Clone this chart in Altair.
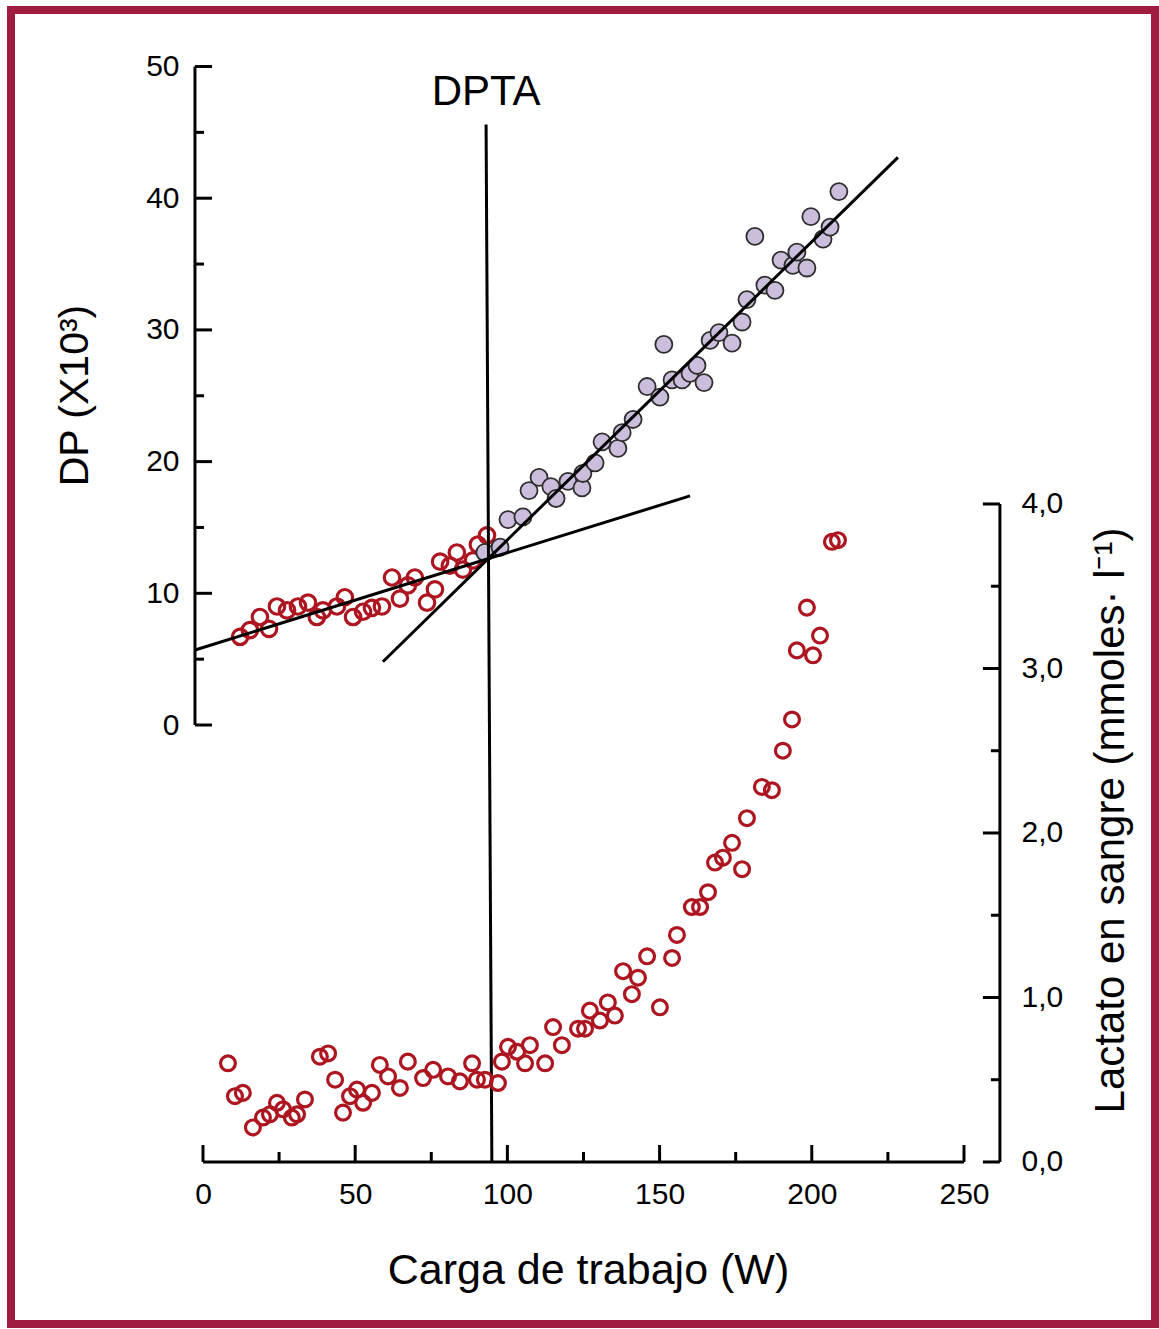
import altair as alt
import pandas as pd

FONT = "Liberation Sans"
RED = "#ad1620"
FRAME = "#a11d40"

# ---------------- data ----------------
# DP (x10^3) below the threshold: open red circles
dp_low_w = [12.2, 15.4, 18.7, 21.7, 24.3, 27.6, 31.2, 34.5, 37.4, 39.4,
            44.0, 46.6, 49.3, 52.6, 55.5, 58.8, 62.1, 64.7, 67.3, 69.6,
            73.6, 76.2, 77.9, 81.1, 83.4, 85.4, 88.7, 90.3, 93.3]
dp_low_v = [6.7, 7.2, 8.2, 7.3, 9.0, 8.7, 9.0, 9.3, 8.2, 8.7,
            9.0, 9.7, 8.2, 8.6, 8.9, 9.0, 11.2, 9.6, 10.6, 11.2,
            9.3, 10.3, 12.4, 12.1, 13.1, 11.8, 12.5, 13.7, 14.4]

# DP above the threshold: filled lavender circles
dp_high_w = [92.6, 97.6, 100.2, 105.1, 107.1, 110.4, 114.3, 116.0, 119.9, 124.5,
             124.8, 128.8, 131.1, 136.3, 137.7, 141.3, 145.9, 150.1, 151.4, 154.1,
             157.4, 160.0, 162.3, 164.6, 166.6, 169.5, 173.8, 177.1, 178.7, 181.3,
             184.6, 187.9, 189.9, 193.8, 195.1, 198.4, 199.7, 203.7, 206.0, 208.9]
dp_high_v = [13.1, 13.5, 15.6, 15.8, 17.8, 18.8, 18.1, 17.2, 18.5, 18.0,
             19.1, 19.9, 21.5, 21.0, 22.2, 23.2, 25.7, 24.9, 28.9, 26.2,
             26.2, 26.7, 27.3, 26.0, 29.2, 29.8, 29.0, 30.6, 32.3, 37.1,
             33.4, 33.0, 35.3, 34.9, 35.9, 34.7, 38.6, 36.9, 37.8, 40.5]

# Blood lactate (mmol/l)
lac_w = [8.2, 10.5, 13.1, 16.4, 19.7, 22.0, 24.3, 26.3, 29.2, 30.9,
         33.5, 38.4, 41.1, 43.4, 46.0, 48.3, 50.6, 52.6, 55.5, 58.1,
         60.8, 64.7, 67.3, 72.3, 75.6, 80.5, 84.4, 88.4, 90.0, 92.6,
         96.9, 98.2, 100.2, 103.2, 105.8, 107.4, 112.4, 115.0, 117.9, 123.2,
         125.5, 127.1, 130.4, 133.0, 135.3, 138.0, 140.9, 142.9, 145.9, 150.1,
         154.1, 155.7, 160.6, 163.3, 165.9, 168.2, 170.8, 173.8, 177.1, 178.7,
         183.6, 186.9, 190.5, 193.5, 195.1, 200.4, 202.7, 198.4, 206.6, 208.6]
lac_v = [0.60, 0.40, 0.42, 0.21, 0.27, 0.29, 0.36, 0.32, 0.27, 0.29,
         0.38, 0.64, 0.66, 0.50, 0.30, 0.40, 0.44, 0.36, 0.42, 0.59,
         0.52, 0.45, 0.61, 0.51, 0.56, 0.52, 0.49, 0.60, 0.50, 0.50,
         0.48, 0.61, 0.70, 0.67, 0.60, 0.71, 0.60, 0.82, 0.71, 0.81,
         0.81, 0.92, 0.86, 0.97, 0.89, 1.16, 1.02, 1.12, 1.25, 0.94,
         1.24, 1.38, 1.55, 1.55, 1.64, 1.82, 1.85, 1.94, 1.78, 2.09,
         2.28, 2.26, 2.50, 2.69, 3.11, 3.08, 3.20, 3.37, 3.77, 3.78]

# regression lines (start/end in W and DP)
reg_x1 = [-2.6, 59.1]
reg_y1 = [5.7, 4.8]
reg_x2 = [160.0, 228.3]
reg_y2 = [17.4, 43.1]

# DPTA threshold line
dpta_label = ["DPTA"]
dpta_x_top = [93.0]
dpta_x_bottom = [94.9]
dpta_dp_top = [45.6]

# ticks
x_major = [0, 50, 100, 150, 200, 250]
x_minor = [25, 75, 125, 175, 225]
dp_major = [0, 10, 20, 30, 40, 50]
dp_minor = [5, 15, 25, 35, 45]
lac_major = [0, 1, 2, 3, 4]
lac_minor = [0.5, 1.5, 2.5, 3.5]

# axis placement (data units)
X_LEFT_AXIS = -2.63
X_RIGHT_AXIS = 261.8
DP_BOTTOM = -33.2   # DP value at the level of the W axis

# ---------------- scales & axes ----------------
XS = alt.Scale(domain=[-63.07, 312.75], nice=False, zero=False)
YDP = alt.Scale(domain=[-45.48, 54.29], nice=False, zero=False)
YLAC = alt.Scale(domain=[-0.985, 7.003], nice=False, zero=False)

x_axis = alt.Axis(orient="bottom", offset=-162, values=x_major, domain=False,
                  ticks=False, grid=False, labelFontSize=30, labelPadding=17,
                  labelFlush=False, format="d",
                  title="Carga de trabajo (W)", titleFontSize=43,
                  titleFontWeight="normal", titleX=577, titleY=121,
                  titleBaseline="alphabetic", titleAlign="center")

dp_axis = alt.Axis(orient="left", offset=-184, values=dp_major, domain=False,
                   ticks=False, grid=False, labelFontSize=30, labelPadding=16,
                   labelFlush=False, format="d",
                   title="DP (X10³)", titleFontSize=41, titleFontWeight="normal",
                   titleAngle=270, titleX=-120, titleY=385,
                   titleBaseline="middle", titleAlign="center")

lac_axis = alt.Axis(orient="right", offset=-155, values=lac_major, domain=False,
                    ticks=False, grid=False, labelFontSize=30, labelPadding=21,
                    labelFlush=False,
                    labelExpr="replace(format(datum.value, '.1f'), '.', ',')",
                    title="Lactato en sangre (mmoles· l⁻¹)", titleFontSize=42,
                    titleFontWeight="normal", titleAngle=270, titleX=110,
                    titleY=810, titleBaseline="middle", titleAlign="center")


def X(field):
    return alt.X(field, type="quantitative", scale=XS, axis=x_axis)


def YD(field):
    return alt.Y(field, type="quantitative", scale=YDP, axis=dp_axis)


def YL(field):
    return alt.Y(field, type="quantitative", scale=YLAC, axis=lac_axis)


# ---------------- DP group ----------------
df_low = pd.DataFrame({"W": dp_low_w, "DP": dp_low_v})
df_high = pd.DataFrame({"W": dp_high_w, "DP": dp_high_v})
df_reg = pd.DataFrame({"x1": reg_x1, "y1": reg_y1, "x2": reg_x2, "y2": reg_y2})
df_dpta = pd.DataFrame({"x1": dpta_x_top, "x2": dpta_x_bottom, "y1": dpta_dp_top,
                        "y2": [DP_BOTTOM], "label": dpta_label,
                        "ty": [48.1]})
df_left_axis = pd.DataFrame({"x": [X_LEFT_AXIS], "y1": [0], "y2": [50]})
df_dp_major = pd.DataFrame({"x": [X_LEFT_AXIS] * len(dp_major), "DP": dp_major})
df_dp_minor = pd.DataFrame({"x": [X_LEFT_AXIS] * len(dp_minor), "DP": dp_minor})

low_pts = alt.Chart(df_low).mark_point(shape="circle", filled=False, size=240,
                                       strokeWidth=3.2, color=RED, opacity=1).encode(
    x=X("W"), y=YD("DP"))
high_pts = alt.Chart(df_high).mark_point(shape="circle", filled=True, size=290,
                                         fill="#cbbddc", stroke="#2e2e2e",
                                         strokeWidth=1.8, opacity=1).encode(
    x=X("W"), y=YD("DP"))
reg_lines = alt.Chart(df_reg).mark_rule(color="black", strokeWidth=3).encode(
    x=X("x1"), y=YD("y1"), x2="x2", y2="y2")
dpta_line = alt.Chart(df_dpta).mark_rule(color="black", strokeWidth=3).encode(
    x=X("x1"), y=YD("y1"), x2="x2", y2="y2")
dpta_text = alt.Chart(df_dpta).mark_text(font=FONT, fontSize=42, color="black",
                                         align="center", baseline="middle").encode(
    x=X("x1"), y=YD("ty"), text="label")
left_line = alt.Chart(df_left_axis).mark_rule(color="black", strokeWidth=3).encode(
    x=X("x"), y=YD("y1"), y2="y2")
left_major = alt.Chart(df_dp_major).mark_tick(orient="horizontal", size=17,
                                              thickness=3, color="black",
                                              xOffset=8.5, opacity=1).encode(
    x=X("x"), y=YD("DP"))
left_minor = alt.Chart(df_dp_minor).mark_tick(orient="horizontal", size=9,
                                              thickness=3, color="black",
                                              xOffset=4.5, opacity=1).encode(
    x=X("x"), y=YD("DP"))

dp_group = alt.layer(low_pts, high_pts, reg_lines, dpta_line, dpta_text,
                     left_line, left_major, left_minor)

# ---------------- lactate group ----------------
df_lac = pd.DataFrame({"W": lac_w, "L": lac_v})
df_bottom_axis = pd.DataFrame({"x1": [0], "x2": [250], "L": [0]})
df_x_major = pd.DataFrame({"W": x_major, "L": [0] * len(x_major)})
df_x_minor = pd.DataFrame({"W": x_minor, "L": [0] * len(x_minor)})
df_right_axis = pd.DataFrame({"x": [X_RIGHT_AXIS], "y1": [0], "y2": [4]})
df_l_major = pd.DataFrame({"x": [X_RIGHT_AXIS] * len(lac_major), "L": lac_major})
df_l_minor = pd.DataFrame({"x": [X_RIGHT_AXIS] * len(lac_minor), "L": lac_minor})

lac_pts = alt.Chart(df_lac).mark_point(shape="circle", filled=False, size=220,
                                       strokeWidth=3.2, color=RED, opacity=1).encode(
    x=X("W"), y=YL("L"))
bottom_line = alt.Chart(df_bottom_axis).mark_rule(color="black", strokeWidth=3).encode(
    x=X("x1"), x2="x2", y=YL("L"))
bottom_major = alt.Chart(df_x_major).mark_tick(orient="vertical", size=17,
                                               thickness=3, color="black",
                                               yOffset=-8.5, opacity=1).encode(
    x=X("W"), y=YL("L"))
bottom_minor = alt.Chart(df_x_minor).mark_tick(orient="vertical", size=10,
                                               thickness=3, color="black",
                                               yOffset=-5, opacity=1).encode(
    x=X("W"), y=YL("L"))
right_line = alt.Chart(df_right_axis).mark_rule(color="black", strokeWidth=3).encode(
    x=X("x"), y=YL("y1"), y2="y2")
right_major = alt.Chart(df_l_major).mark_tick(orient="horizontal", size=17,
                                              thickness=3, color="black",
                                              xOffset=-8.5, opacity=1).encode(
    x=X("x"), y=YL("L"))
right_minor = alt.Chart(df_l_minor).mark_tick(orient="horizontal", size=9,
                                              thickness=3, color="black",
                                              xOffset=-4.5, opacity=1).encode(
    x=X("x"), y=YL("L"))

lac_group = alt.layer(lac_pts, bottom_line, bottom_major, bottom_minor,
                      right_line, right_major, right_minor)

chart = alt.layer(dp_group, lac_group).resolve_scale(y="independent").properties(
    width=1144, height=1314,
    autosize="none",
    padding={"left": 11, "top": 10, "right": 4, "bottom": 5},
    background="white",
).configure_view(
    stroke=FRAME, strokeWidth=8
).configure_axis(
    labelFont=FONT, titleFont=FONT, labelColor="black", titleColor="black"
)

chart.save("out.html", embed_options={"renderer": "svg", "actions": False})
